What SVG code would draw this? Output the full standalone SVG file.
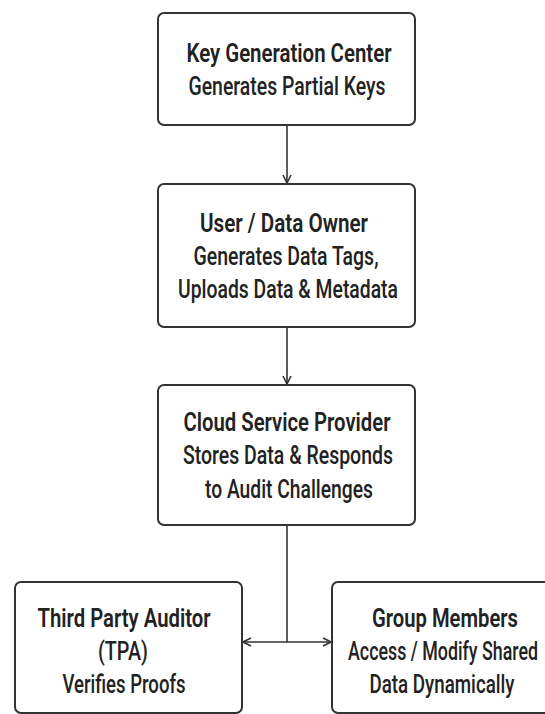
<svg xmlns="http://www.w3.org/2000/svg" width="545" height="714" viewBox="0 0 545 714">
<defs>
<style>
.box{fill:#fff;stroke:#333;stroke-width:2}
.t{font-family:Roboto,"Liberation Sans",sans-serif;font-size:26px;font-weight:500;fill:#222;text-anchor:middle}
.b{font-weight:600}
.c{fill:none;stroke:#333;stroke-width:1.6}
</style>
<marker id="ah" viewBox="0 0 10 10" refX="9" refY="5" markerWidth="10" markerHeight="10" markerUnits="userSpaceOnUse" orient="auto">
<path d="M1,1 L9,5 L1,9" fill="none" stroke="#333" stroke-width="1.6"/>
</marker>
</defs>
<rect width="545" height="714" fill="#fff"/>
<g id="connectors">
<line class="c" x1="287" y1="125" x2="287" y2="183" marker-end="url(#ah)"/>
<line class="c" x1="287" y1="327" x2="287" y2="384" marker-end="url(#ah)"/>
<line class="c" x1="287" y1="525" x2="287" y2="642"/>
<line class="c" x1="287" y1="642" x2="243" y2="642" marker-end="url(#ah)"/>
<line class="c" x1="287" y1="642" x2="331" y2="642" marker-end="url(#ah)"/>
</g>
<g id="kgc">
<rect class="box" x="158" y="13" width="257" height="112" rx="6"/>
<text class="t b" x="289" y="62" textLength="205" lengthAdjust="spacingAndGlyphs">Key Generation Center</text>
<text class="t" x="287" y="95" textLength="197" lengthAdjust="spacingAndGlyphs">Generates Partial Keys</text>
</g>
<g id="owner">
<rect class="box" x="158" y="184" width="257" height="143" rx="6"/>
<text class="t b" x="284" y="232" textLength="168" lengthAdjust="spacingAndGlyphs">User / Data Owner</text>
<text class="t" x="286" y="265" textLength="185" lengthAdjust="spacingAndGlyphs">Generates Data Tags,</text>
<text class="t" x="288" y="298" textLength="220" lengthAdjust="spacingAndGlyphs">Uploads Data &amp; Metadata</text>
</g>
<g id="csp">
<rect class="box" x="158" y="385" width="257" height="140" rx="6"/>
<text class="t b" x="287" y="431" textLength="207" lengthAdjust="spacingAndGlyphs">Cloud Service Provider</text>
<text class="t" x="288" y="464" textLength="210" lengthAdjust="spacingAndGlyphs">Stores Data &amp; Responds</text>
<text class="t" x="289" y="498" textLength="168" lengthAdjust="spacingAndGlyphs">to Audit Challenges</text>
</g>
<g id="tpa">
<rect class="box" x="15" y="582" width="227" height="131" rx="6"/>
<text class="t b" x="124" y="627" textLength="173" lengthAdjust="spacingAndGlyphs">Third Party Auditor</text>
<text class="t" x="123" y="660" textLength="50" lengthAdjust="spacingAndGlyphs">(TPA)</text>
<text class="t" x="124" y="693" textLength="123" lengthAdjust="spacingAndGlyphs">Verifies Proofs</text>
</g>
<g id="group">
<rect class="box" x="332" y="582" width="220" height="131" rx="6"/>
<text class="t b" x="445" y="627" textLength="146" lengthAdjust="spacingAndGlyphs">Group Members</text>
<text class="t" x="443" y="660" textLength="190" lengthAdjust="spacingAndGlyphs">Access / Modify Shared</text>
<text class="t" x="442" y="693" textLength="145" lengthAdjust="spacingAndGlyphs">Data Dynamically</text>
</g>
</svg>
